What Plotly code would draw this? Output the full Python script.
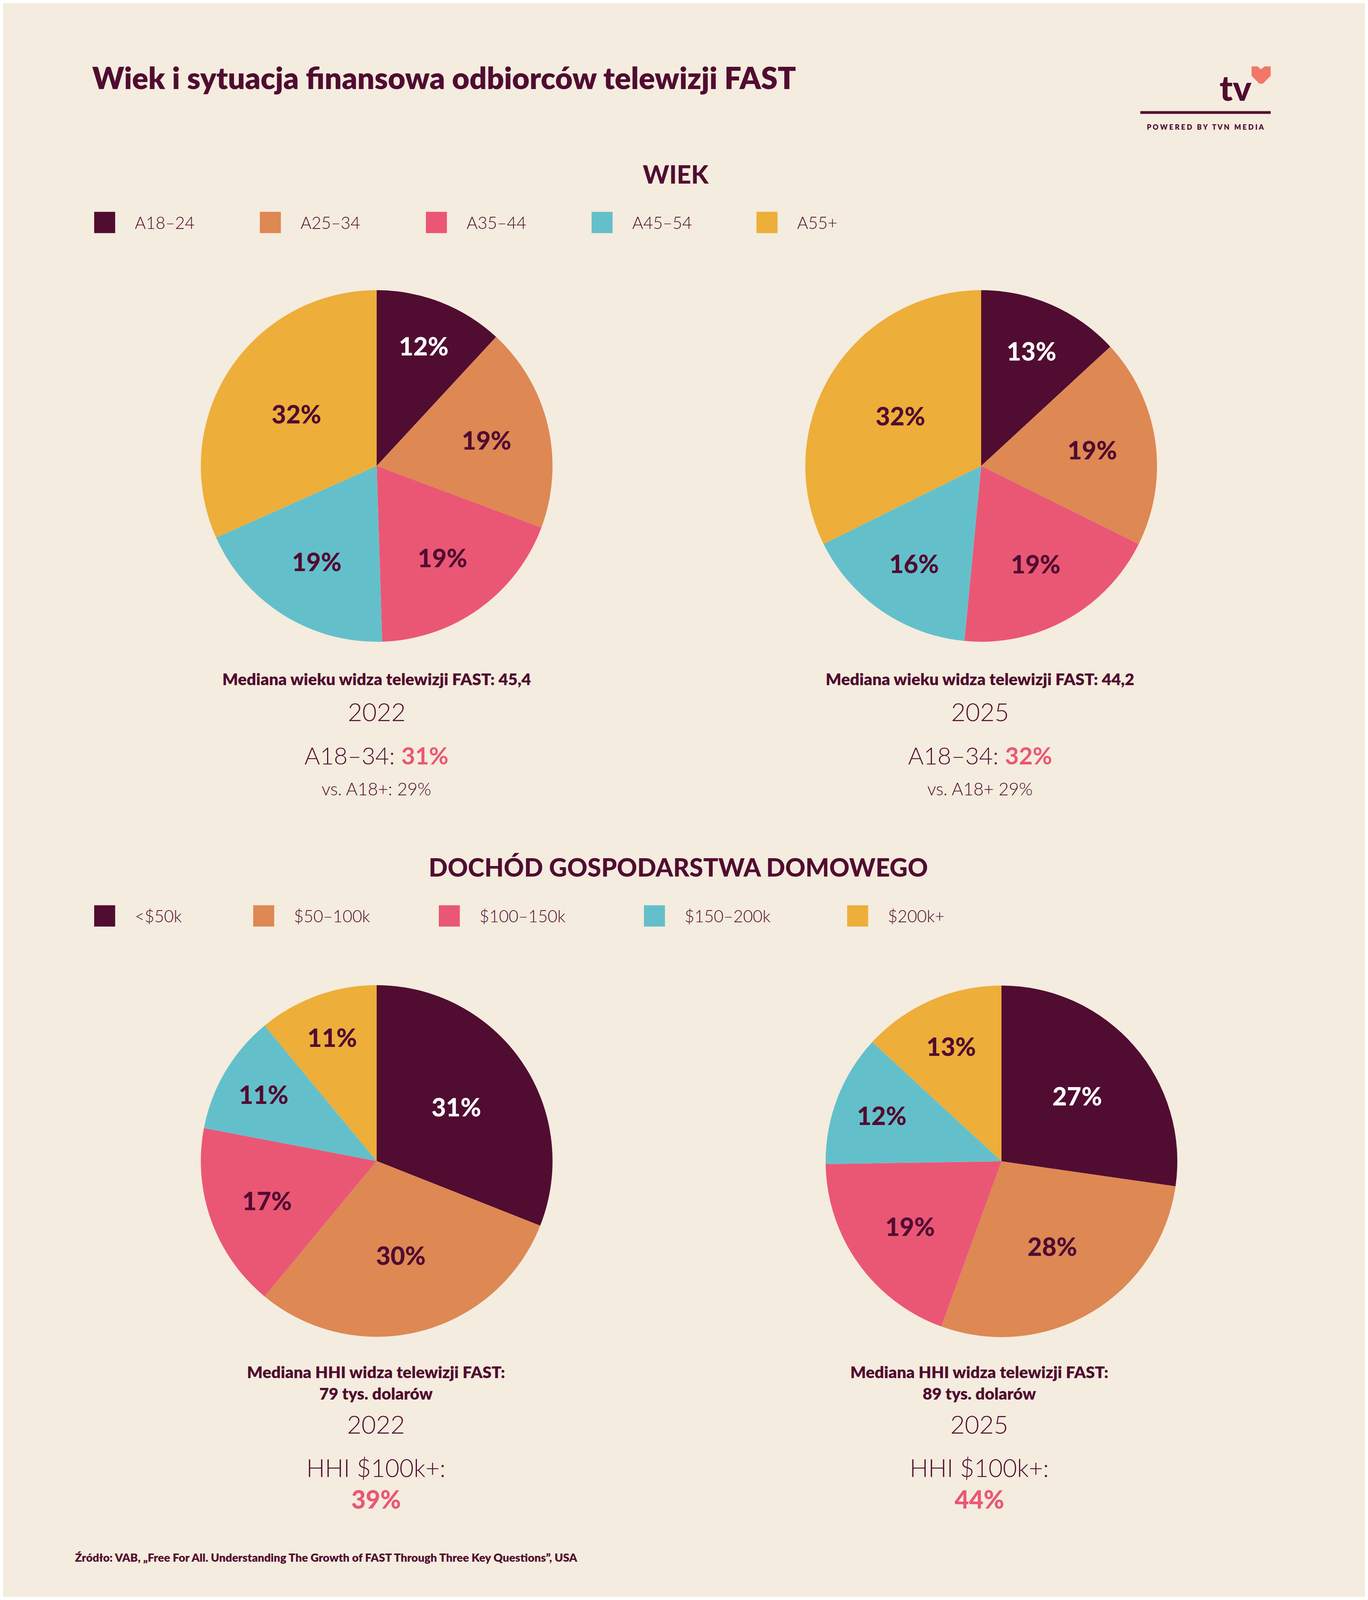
import plotly.graph_objects as go

# the page is photographed in a window 4096 px tall, so the reference layout
# (3501 x 5086) is squeezed to fit that height; horizontal anchors stay the same
REF_W, REF_H = 3501, 5086
W, H = 3485, 4080
S = H / REF_H

BG = "#F4ECDE"
DARK = "#510C31"
PINK = "#EA5775"
COLORS = ["#510C31", "#DE8854", "#EA5775", "#63C0CB", "#EDAE3A"]
LABEL_COLORS = ["#FFFFFF", DARK, DARK, DARK, DARK]

age_labels = ["A18–24", "A25–34", "A35–44", "A45–54", "A55+"]
age_2022 = [12, 19, 19, 19, 32]
age_2025 = [13, 19, 19, 16, 32]

income_labels = ["&lt;$50k", "$50–100k", "$100–150k", "$150–200k", "$200k+"]
income_2022 = [31, 30, 17, 11, 11]
income_2025 = [27, 28, 19, 12, 13]

years = ["2022", "2025"]
median_age = ["45,4", "44,2"]
a18_34 = [31, 32]
a18_plus = ["vs. A18+: 29%", "vs. A18+ 29%"]
median_hhi = [79, 89]
hhi_100k = [39, 44]

FONT = "Lato"


def px(x):
    return (x - 8) / W


def py(y):
    return 1 - y / REF_H


def fs(size):
    return round(size * S)


def domain(cx, cy, r):
    rx = r * S * REF_H / REF_H  # radius in page px
    return dict(x=[px(cx - r * S), px(cx + r * S)], y=[py(cy + r), py(cy - r)])


def pie(values, labels, cx, cy, r=561):
    return go.Pie(
        values=values, labels=labels, text=[f"{v}%" for v in values],
        textinfo="text", textposition="inside", insidetextorientation="horizontal",
        textfont=dict(family=FONT, size=fs(80), weight=900, color=LABEL_COLORS),
        marker=dict(colors=COLORS, line=dict(width=0)),
        sort=False, direction="clockwise", rotation=0,
        domain=domain(cx, cy, r), showlegend=False, hoverinfo="skip",
    )


fig = go.Figure()
fig.add_trace(pie(age_2022, age_labels, 964, 1477))
fig.add_trace(pie(age_2025, age_labels, 2511, 1477))
fig.add_trace(pie(income_2022, income_labels, 964, 3695))
fig.add_trace(pie(income_2025, income_labels, 2563, 3696))

ann = []
shapes = []


def text(x, y, s, size, weight=400, color=DARK, anchor="center"):
    ann.append(dict(x=px(x), y=py(y), xref="paper", yref="paper", text=s, showarrow=False,
                    xanchor=anchor, yanchor="middle",
                    font=dict(family=FONT, size=fs(size), weight=weight, color=color)))


# title and logo (logo kept right-aligned at the reference edge)
text(234, 237, "Wiek i sytuacja finansowa odbiorców telewizji FAST", 96, 800, anchor="left")
LOGO_R = 3252
text(LOGO_R - (LOGO_R - 3140) * S, 268, "tv", 112, 900)
heart = [(3191, 202), (3210, 202), (3221, 211), (3232, 202), (3252, 202),
         (3252, 232), (3227, 257), (3216, 257), (3191, 232)]
shapes.append(dict(type="path", xref="paper", yref="paper",
                   path="M" + "L".join(f"{px(LOGO_R - (LOGO_R - x) * S)},{py(y)}" for x, y in heart) + "Z",
                   fillcolor="#F27768", line=dict(width=0)))
shapes.append(dict(type="line", xref="paper", yref="paper", x0=px(LOGO_R - 416 * S), x1=px(LOGO_R),
                   y0=py(349), y1=py(349), line=dict(color=DARK, width=fs(9))))
text(LOGO_R - 208 * S, 395, "P O W E R E D &nbsp; B Y &nbsp; T V N &nbsp; M E D I A", 23, 800)

# section headings
text(1730, 545, "WIEK", 80, 900)
text(1736, 2757, "DOCHÓD GOSPODARSTWA DOMOWEGO", 80, 900)


def legend(labels, xs, yc):
    half = 34 * S
    for lab, col, x0 in zip(labels, COLORS, xs):
        shapes.append(dict(type="rect", xref="paper", yref="paper",
                           x0=px(x0), x1=px(x0 + 67 * S),
                           y0=py(yc + 34), y1=py(yc - 34), fillcolor=col, line=dict(width=0)))
        text(x0 + 127 * S, yc, lab, 54, 300, anchor="left")


legend(age_labels, [241, 665, 1090, 1514, 1936], 700)
legend(income_labels, [241, 648, 1123, 1648, 2168], 2913)

# age summaries
for i, cx in enumerate([964, 2508]):
    text(cx, 2157, f"Mediana wieku widza telewizji FAST: {median_age[i]}", 52, 800)
    text(cx, 2261, years[i], 80, 300)
    text(cx, 2400, f"A18–34: <span style='color:{PINK}'><b>{a18_34[i]}%</b></span>", 76, 300)
    text(cx, 2507, a18_plus[i], 56, 300)

# income summaries
for i, cx in enumerate([962, 2506]):
    text(cx, 4402, f"Mediana HHI widza telewizji FAST:<br>{median_hhi[i]} tys. dolarów", 52, 800)
    text(cx, 4535, years[i], 80, 300)
    text(cx, 4673, "HHI $100k+:", 78, 300)
    text(cx, 4774, f"{hhi_100k[i]}%", 80, 900, color=PINK)

text(190, 4960, "Źródło: VAB, „Free For All. Understanding The Growth of FAST Through Three Key Questions”, USA",
     36, 800, anchor="left")

fig.update_layout(
    width=W, height=H, autosize=False,
    margin=dict(l=0, r=0, t=0, b=0),
    paper_bgcolor=BG, plot_bgcolor=BG,
    annotations=ann, shapes=shapes,
)

fig.write_html("out.html")
